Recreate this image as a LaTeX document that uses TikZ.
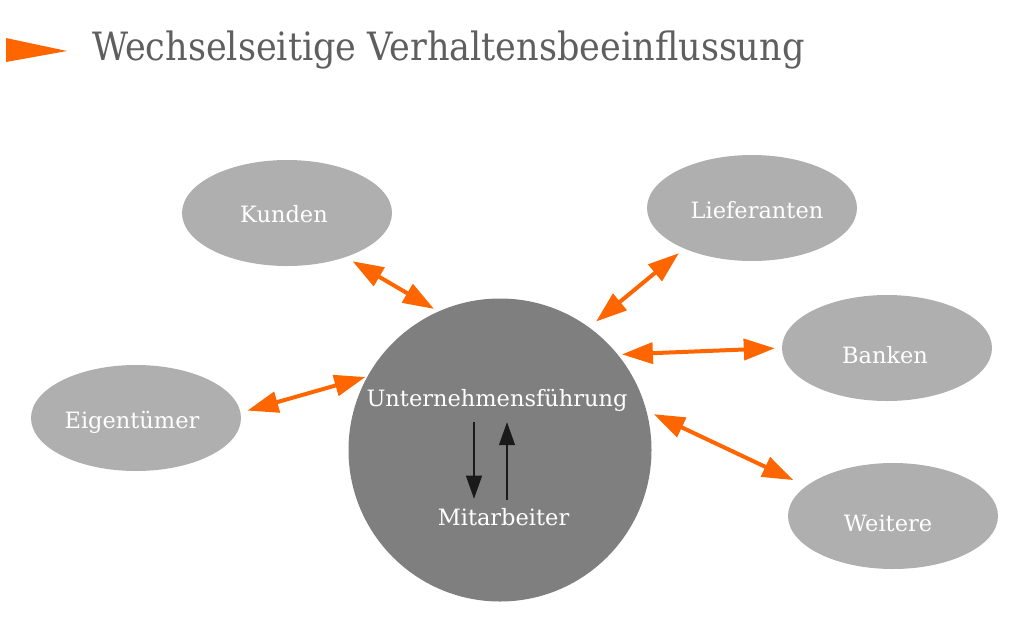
\documentclass[tikz,border=0pt]{standalone}
\usepackage{fontspec}
\setmainfont{DejaVu Serif}
\newfontfamily\titlefont{DejaVu Serif Condensed}
\usetikzlibrary{arrows.meta,shapes.geometric}
\definecolor{orng}{HTML}{FF6600}
\definecolor{ellgray}{HTML}{AFAFAF}
\definecolor{circgray}{HTML}{7F7F7F}
\definecolor{titlegray}{HTML}{5F5F5F}
\definecolor{blk}{HTML}{1A1A1A}
\tikzset{
  ell/.style={ellipse, fill=ellgray, minimum width=210pt, minimum height=106pt, inner sep=0pt},
  lbl/.style={anchor=base, text=white, font=\fontsize{22.5}{22.5}\selectfont, inner sep=3pt},
  oarrow/.style={draw=orng, line width=4pt, {Triangle[length=31pt,width=21pt]}-{Triangle[length=31pt,width=21pt]}},
  barrow/.style={draw=blk, line width=1.3pt, -{Triangle[length=23pt,width=16pt]}},
}
\begin{document}
\begin{tikzpicture}[x=1pt,y=-1pt]
\useasboundingbox (0,0) rectangle (1022,641);
% title
\fill[orng] (6,38) -- (67,51) -- (6,62) -- cycle;
\node[anchor=base west, inner sep=0pt, text=titlegray, font=\titlefont\fontsize{39}{39}\selectfont] (title) at (92,60) {Wechselseitige Verhaltensbeeinflussung};
% shapes
\node[circle, fill=circgray, minimum size=303pt, inner sep=0pt] (chef) at (500,450) {};
\node[ell] (kunden) at (287,213) {};
\node[ell] (liefer) at (752,208) {};
\node[ell] (banken) at (887,348) {};
\node[ell] (eigen) at (136,418) {};
\node[ell] (weitere) at (893,516) {};
% labels
\node[lbl] (tk) at (284,222) {Kunden};
\node[lbl] (tl) at (757,218) {Lieferanten};
\node[lbl] (tb) at (885,363) {Banken};
\node[lbl] (te) at (132,428) {Eigentümer};
\node[lbl] (tw) at (888,531) {Weitere};
\node[lbl] (uft) at (497,406) {Unternehmensführung};
\node[lbl] (ma) at (503.5,525) {Mitarbeiter};
% orange connectors
\draw[oarrow, shorten <=8pt, shorten >=5pt] (kunden.-37) -- (chef.114.6);
\draw[oarrow, shorten <=7pt, shorten >=9pt] (liefer.-149.3) -- (chef.54.1);
\draw[oarrow, shorten <=7pt, shorten >=4pt] (banken.180) -- (chef.39.2);
\draw[oarrow, shorten <=7pt, shorten >=2pt] (eigen.3.1) -- (chef.151.6);
\draw[oarrow, shorten <=14pt, shorten >=8pt] (weitere.161.4) -- (chef.15.3);
% black connectors
\draw[barrow, shorten <=8pt, shorten >=6pt] ([xshift=-23pt]uft.south) -- ([xshift=-29.5pt]ma.north);
\draw[barrow, shorten <=5pt, shorten >=8pt] ([xshift=3.5pt]ma.north) -- ([xshift=10pt]uft.south);
\end{tikzpicture}
\end{document}
